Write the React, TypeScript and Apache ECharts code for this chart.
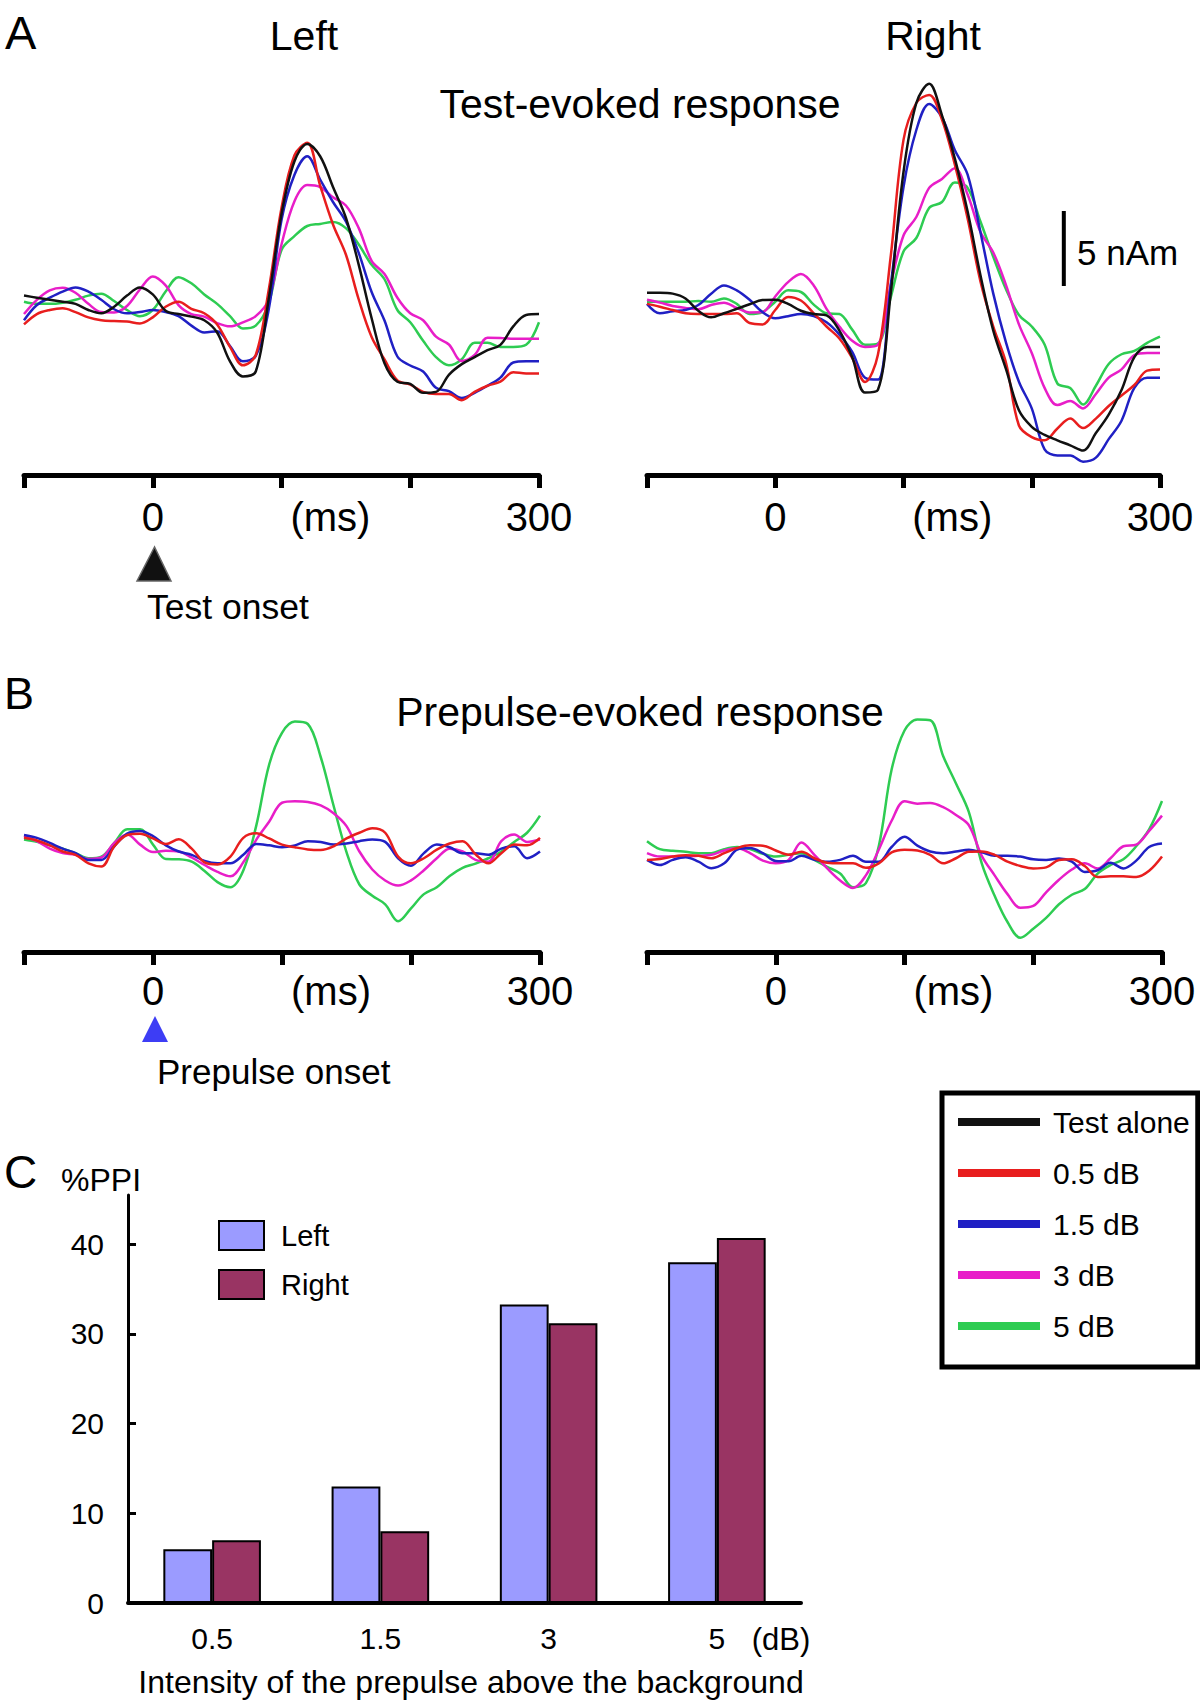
import React, { useEffect, useRef } from "react";
import * as echarts from "echarts";

const FONT = "'Liberation Sans', Arial, Helvetica, sans-serif";

// time axis (ms)
const timesMs = [-100, -90, -80, -70, -60, -50, -40, -30, -20, -10, 0, 10, 20, 30, 40, 50, 60, 70, 80, 90, 100, 110, 120, 130, 140, 150, 160, 170, 180, 190, 200, 210, 220, 230, 240, 250, 260, 270, 280, 290, 300];

const seriesNames = ["Test alone", "0.5 dB", "1.5 dB", "3 dB", "5 dB"];
const seriesColors = ["#111111", "#e81e1e", "#2020c4", "#e81ec8", "#2ecc52"];

// Panel A – test-evoked response (nAm), Left hemisphere
const aLeftTestAlone = [0.96, 0.82, 0.68, 0.55, 0.41, 0, -0.22, 0.22, 0.96, 1.5, 1.04, -0.05, -0.27, -0.44, -0.68, -1.5, -3.42, -4.43, -4.1, 0.7, 6.4, 9.9, 11.07, 10.25, 8.2, 6.15, 3.01, -0.55, -3.55, -4.78, -4.92, -5.52, -5.46, -4.32, -3.61, -3.14, -2.68, -2.32, -1.09, -0.33, -0.27];
const aLeft05 = [-0.96, -0.27, 0, 0.11, -0.14, -0.49, -0.68, -0.74, -0.77, -0.9, -0.49, 0.22, 0.55, 0.08, -0.22, -0.96, -2.46, -3.69, -3.0, 1.3, 6.8, 10.3, 11.15, 8.3, 5.7, 3.7, 0.7, -1.8, -3.3, -4.7, -4.97, -5.46, -5.6, -5.6, -6.01, -5.46, -5.05, -4.78, -4.15, -4.23, -4.23];
const aLeft15 = [-0.68, 0.33, 0.82, 1.23, 1.5, 1.23, 0.68, 0.05, -0.22, -0.14, 0, -0.14, -0.41, -1.04, -1.5, -1.42, -2.4, -3.42, -3.06, 0.0, 6.0, 9.0, 10.25, 8.7, 7.2, 5.9, 3.8, 1.2, -0.7, -3.1, -3.7, -4.1, -5.19, -5.41, -5.87, -5.52, -5.05, -4.51, -3.5, -3.42, -3.42];
const aLeft3 = [-0.27, 0.68, 1.31, 1.48, 1.15, 0.41, -0.14, -0.16, 0.27, 1.37, 2.24, 1.64, 0.33, -0.27, -0.44, -0.87, -1.09, -0.82, -0.41, 0.68, 4.37, 7.24, 8.33, 8.2, 7.51, 6.97, 5.46, 3.28, 2.4, 0.82, -0.22, -0.68, -1.78, -2.3, -3.4, -3.0, -1.85, -1.86, -1.91, -1.91, -1.91];
const aLeft5 = [0.55, 0.41, 0.41, 0.49, 0.68, 0.96, 1.09, 0.6, 0, -0.41, 0, 1.23, 2.19, 1.78, 1.04, 0.41, -0.41, -1.23, -1.04, 0.41, 4.0, 4.92, 5.6, 5.74, 5.87, 5.46, 4.37, 3.01, 2.05, 0, -0.82, -2.05, -3.14, -3.69, -3.28, -2.19, -2.19, -2.46, -2.46, -2.32, -0.82];

// Panel A – Right hemisphere
const aRightTestAlone = [1.15, 1.15, 1.09, 0.77, -0.05, -0.49, -0.22, 0.08, 0.38, 0.66, 0.68, 0.41, -0.05, -0.27, -0.36, -1.37, -3.14, -5.5, -5.33, 1.09, 9.2, 13.8, 15.08, 12.98, 10.11, 6.56, 2.32, -1.37, -3.96, -6.69, -7.79, -8.33, -8.69, -9.02, -9.37, -8.2, -6.97, -5.33, -3.14, -2.46, -2.46];
const aRight05 = [0.41, 0.22, 0, -0.22, -0.27, -0.27, -0.27, -0.22, -0.87, -0.96, 0, 0.87, 0.63, -0.22, -1.1, -1.9, -3.2, -4.8, -3.0, 3.55, 11.34, 13.8, 14.34, 12.7, 9.7, 6.1, 1.91, -1.1, -3.55, -7.7, -8.47, -8.69, -7.9, -7.24, -7.87, -7.24, -6.4, -5.7, -5.0, -4.04, -3.96];
const aRight15 = [0.41, -0.22, -0.08, 0, 0.33, 1.09, 1.64, 1.31, 0.68, -0.14, -0.55, -0.41, -0.27, -0.41, -0.82, -1.64, -2.79, -4.51, -4.64, 1.64, 8.2, 12.0, 13.74, 12.84, 10.66, 9.02, 5.19, 1.09, -2.19, -4.78, -6.56, -9.29, -9.7, -9.7, -10.11, -9.84, -8.61, -7.38, -5.19, -4.51, -4.51];
const aRight3 = [0.68, 0.49, 0.27, 0.14, 0.05, 0.33, 0.49, 0.14, -0.16, -0.14, 0.9, 1.86, 2.4, 1.64, 0.08, -1.1, -2.05, -2.46, -2.32, 1.64, 4.97, 6.2, 8.14, 8.74, 9.45, 7.7, 5.2, 3.83, 1.64, -0.96, -2.87, -5.19, -6.34, -6.07, -6.56, -5.6, -4.51, -3.96, -3.01, -2.87, -2.87];
const aRight5 = [0.55, 0.55, 0.55, 0.55, 0.6, 0.55, 0.77, 0.41, -0.27, -0.14, 0.55, 1.31, 1.2, 0.36, -0.22, -0.27, -1.31, -2.32, -2.24, 0.82, 3.9, 4.8, 6.8, 7.2, 8.5, 8.14, 5.9, 3.55, 1.37, -0.33, -1.1, -2.3, -4.9, -5.2, -6.3, -5.05, -3.6, -2.95, -2.73, -2.19, -1.78];

// Panel B – prepulse-evoked response (nAm)
const bLeft05 = [0.61, 0.43, 0.11, -0.3, -0.52, -1.09, -1.3, 0.05, 0.8, 0.89, 0.57, 0.2, 0.52, -0.11, -1.02, -1.16, -0.64, 0.61, 0.91, 0.57, 0.16, -0.02, -0.16, -0.2, 0.05, 0.57, 0.95, 1.25, 0.95, -0.64, -1.09, -0.75, -0.18, 0.23, 0.39, -0.48, -1.09, -0.41, 0.16, 0.11, 0.61];
const bLeft15 = [0.8, 0.61, 0.27, -0.11, -0.41, -0.86, -0.86, 0.05, 0.89, 1.07, 0.73, 0.11, -0.3, -0.52, -0.93, -1.09, -1.09, -0.52, 0.2, 0.11, -0.02, 0.11, 0.39, 0.34, 0.16, 0.23, 0.39, 0.5, 0.34, -0.75, -1.25, -0.41, 0.16, -0.02, -0.41, -0.41, -0.52, -0.11, 0.05, -0.75, -0.3];
const bLeft3 = [0.73, 0.39, -0.11, -0.41, -0.52, -0.8, -0.7, 0.27, 0.84, 0.16, -0.34, -0.25, -0.3, -0.7, -1.2, -1.66, -1.95, -1.02, 0.48, 1.68, 2.95, 3.05, 3.0, 2.77, 2.25, 1.39, -0.3, -1.5, -2.23, -2.57, -2.23, -1.55, -0.75, -0.11, -0.3, -0.86, -0.98, 0.39, 0.84, 0.34, 0.5];
const bLeft5 = [0.5, 0.34, 0.11, -0.11, -0.41, -0.75, -0.64, 0.27, 1.18, 1.18, 0.16, -0.8, -0.82, -0.98, -1.6, -2.34, -2.68, -1.57, 1.41, 5.48, 7.61, 8.36, 8.2, 6.0, 2.75, -0.34, -2.5, -3.25, -3.82, -4.95, -4.09, -3.14, -2.68, -1.93, -1.39, -1.11, -0.75, -0.3, 0.34, 0.95, 2.09];

const bRight05 = [-0.86, -0.8, -0.64, -0.55, -0.59, -0.75, -0.41, -0.07, 0.11, 0.09, -0.23, -0.52, -0.32, -0.75, -1.05, -1.09, -1.09, -1.39, -1.09, -0.36, -0.18, -0.23, -0.52, -1.09, -0.75, -0.32, -0.3, -0.52, -0.98, -1.27, -1.43, -1.36, -0.86, -0.82, -1.27, -2.0, -1.95, -1.95, -2.0, -1.59, -0.64];
const bRight15 = [-0.86, -1.2, -0.86, -0.68, -0.98, -1.41, -1.09, -0.18, -0.07, -0.41, -0.93, -0.95, -0.59, -0.86, -0.98, -0.86, -0.59, -0.98, -0.98, 0, 0.68, 0.09, -0.3, -0.41, -0.3, -0.18, -0.36, -0.59, -0.59, -0.64, -0.82, -0.86, -0.77, -0.98, -1.66, -1.55, -1.05, -1.43, -0.91, 0, 0.23];
const bRight3 = [-0.41, -0.64, -0.64, -0.64, -0.59, -0.52, -0.23, -0.09, -0.41, -0.91, -1.09, -0.86, 0.3, -0.52, -1.43, -2.23, -2.73, -1.89, -0.18, 1.75, 3.05, 2.89, 2.93, 2.66, 2.14, 1.45, -0.59, -1.89, -3.14, -4.05, -3.93, -3.02, -2.18, -1.5, -1.09, -1.43, -0.75, 0.05, 0.16, 1.07, 2.09];
const bRight5 = [0.39, -0.14, -0.25, -0.32, -0.41, -0.41, -0.14, 0, -0.14, -0.45, -0.64, -0.52, -0.41, -0.86, -1.32, -1.77, -2.68, -2.41, 0.05, 5.16, 7.77, 8.5, 8.45, 6.07, 4.23, 2.32, -1.09, -3.25, -5.0, -6.05, -5.45, -4.73, -3.82, -3.18, -2.8, -1.77, -1.2, -0.82, 0.05, 1.18, 3.07];

// Scale bar: 5 nAm, drawn inside the right test-evoked panel
const scaleBarTime = [225, 225];
const scaleBarValues = [1.6, 6.6];

// Panel C – %PPI
const intensities = ["0.5", "1.5", "3", "5"];
const ppiLeft = [6, 13, 33.3, 38];
const ppiRight = [7, 8, 31.2, 40.7];
const ppiTicks = [0, 10, 20, 30, 40];
const timeLabelValues = [0, 138, 300];

function lineSeries(name: string, color: string, vals: number[], idx: number) {
  return {
    type: "line",
    name,
    xAxisIndex: idx,
    yAxisIndex: idx,
    data: timesMs.map((t, i) => [t, vals[i]]),
    showSymbol: false,
    symbol: "none",
    smooth: 0.35,
    lineStyle: { color, width: 2.5 },
    itemStyle: { color },
    silent: true,
  };
}

function timeAxis(gridIndex: number, margin: number) {
  return {
    type: "value",
    gridIndex,
    min: -100,
    max: 300,
    interval: 100,
    axisLine: { show: true, onZero: false, lineStyle: { color: "#000", width: 5 } },
    axisTick: { show: true, length: 13, lineStyle: { color: "#000", width: 5 } },
    splitLine: { show: false },
    axisLabel: {
      customValues: timeLabelValues,
      formatter: (v: number) => (v === 0 ? "0" : v === 300 ? "300" : "(ms)"),
      fontSize: 40,
      fontFamily: FONT,
      color: "#000",
      margin,
    },
  };
}

function txt(text: string, x: number, y: number, size: number, align = "left", fill = "#000") {
  return {
    type: "text",
    x,
    y,
    silent: true,
    style: { text, fontSize: size, fontFamily: FONT, fill, align, verticalAlign: "middle" },
  };
}

export default function App() {
  const ref = useRef<HTMLDivElement>(null);
  useEffect(() => {
    const chart = echarts.init(ref.current!, null, { renderer: "svg" });

    const aLeft = [aLeft5, aLeft3, aLeft15, aLeft05, aLeftTestAlone];
    const aRight = [aRight5, aRight3, aRight15, aRight05, aRightTestAlone];
    const bLeft = [bLeft5, bLeft3, bLeft15, bLeft05];
    const bRight = [bRight5, bRight3, bRight15, bRight05];
    const order = [4, 3, 2, 1, 0];
    const series: any[] = [];
    order.forEach((k, j) => series.push(lineSeries(seriesNames[k], seriesColors[k], aLeft[j], 0)));
    order.forEach((k, j) => series.push(lineSeries(seriesNames[k], seriesColors[k], aRight[j], 1)));
    [4, 3, 2, 1].forEach((k, j) => series.push(lineSeries(seriesNames[k], seriesColors[k], bLeft[j], 2)));
    [4, 3, 2, 1].forEach((k, j) => series.push(lineSeries(seriesNames[k], seriesColors[k], bRight[j], 3)));
    series.push({
      type: "line",
      name: "scale",
      xAxisIndex: 1,
      yAxisIndex: 1,
      data: scaleBarTime.map((t, i) => [t, scaleBarValues[i]]),
      showSymbol: false,
      symbol: "none",
      lineStyle: { color: "#000", width: 4, cap: "butt" },
      silent: true,
    });
    series.push({
      type: "bar",
      name: "Left",
      xAxisIndex: 4,
      yAxisIndex: 4,
      data: ppiLeft,
      barGap: "0%",
      barCategoryGap: "42%",
      itemStyle: { color: "#9b9bff", borderColor: "#000", borderWidth: 2 },
      silent: true,
    });
    series.push({
      type: "bar",
      name: "Right",
      xAxisIndex: 4,
      yAxisIndex: 4,
      data: ppiRight,
      barGap: "0%",
      barCategoryGap: "42%",
      itemStyle: { color: "#993463", borderColor: "#000", borderWidth: 2 },
      silent: true,
    });

    const option: any = {
      animation: false,
      backgroundColor: "#fff",
      grid: [
        { left: 24, top: 55, width: 515, height: 420 },
        { left: 647, top: 55, width: 513, height: 420 },
        { left: 24, top: 667, width: 516, height: 285 },
        { left: 647, top: 667, width: 515, height: 285 },
        { left: 128, top: 1195, width: 673, height: 408 },
      ],
      xAxis: [
        timeAxis(0, 22),
        timeAxis(1, 22),
        timeAxis(2, 19),
        timeAxis(3, 19),
        {
          type: "category",
          gridIndex: 4,
          data: intensities,
          axisLine: { show: true, lineStyle: { color: "#000", width: 4 } },
          axisTick: { show: false },
          axisLabel: { fontSize: 30, fontFamily: FONT, color: "#000", margin: 20 },
          name: "Intensity of the prepulse above the background",
          nameLocation: "middle",
          nameGap: 63,
          nameTextStyle: { fontSize: 32, fontFamily: FONT, color: "#000", padding: [0, 0, 0, 13] },
        },
      ],
      yAxis: [
        { type: "value", gridIndex: 0, min: -11, max: 17, show: false },
        { type: "value", gridIndex: 1, min: -11, max: 17, show: false },
        { type: "value", gridIndex: 2, min: -7, max: 12, show: false },
        { type: "value", gridIndex: 3, min: -7, max: 12, show: false },
        {
          type: "value",
          gridIndex: 4,
          min: 0,
          max: 45.5,
          axisLine: { show: true, lineStyle: { color: "#000", width: 3 } },
          axisTick: { show: true, inside: true, length: 8, customValues: ppiTicks, lineStyle: { color: "#000", width: 3 } },
          axisLabel: { customValues: ppiTicks, fontSize: 30, fontFamily: FONT, color: "#000", margin: 24 },
          splitLine: { show: false },
        },
      ],
      legend: [
        {
          data: seriesNames,
          orient: "vertical",
          left: 942,
          top: 1093,
          itemWidth: 82,
          itemHeight: 8,
          itemGap: 21,
          icon: "rect",
          padding: [14, 8, 26, 16],
          borderColor: "#000",
          borderWidth: 5,
          selectedMode: false,
          textStyle: { fontSize: 30, fontFamily: FONT, color: "#000", padding: [0, 0, 0, 8] },
        },
        {
          data: ["Left", "Right"],
          orient: "vertical",
          left: 218,
          top: 1220,
          itemWidth: 45,
          itemHeight: 29,
          itemGap: 18,
          icon: "rect",
          padding: 0,
          selectedMode: false,
          textStyle: { fontSize: 29, fontFamily: FONT, color: "#000", padding: [0, 0, 0, 12] },
        },
      ],
      graphic: [
        txt("A", 5, 32, 47),
        txt("Left", 304, 36, 41, "center"),
        txt("Right", 933, 36, 41, "center"),
        txt("Test-evoked response", 640, 104, 41, "center"),
        txt("5 nAm", 1077, 252, 35),
        {
          type: "polygon",
          silent: true,
          shape: { points: [[154.5, 547], [137, 581], [171, 581]] },
          style: { fill: "#111", stroke: "#666", lineWidth: 1.5 },
        },
        txt("Test onset", 147, 607, 35.5),
        txt("B", 4, 693, 45),
        txt("Prepulse-evoked response", 640, 712, 41, "center"),
        {
          type: "polygon",
          silent: true,
          shape: { points: [[155, 1016], [142, 1042], [168, 1042]] },
          style: { fill: "#3d3df5" },
        },
        txt("Prepulse onset", 157, 1071, 35),
        txt("C", 4, 1172, 46),
        txt("%PPI", 61, 1180, 32),
        txt("(dB)", 781, 1639, 31, "center"),
      ],
      series,
    };
    chart.setOption(option);
    return () => chart.dispose();
  }, []);
  return (
    <div
      ref={ref}
      style={{ position: "absolute", left: 0, top: 0, width: 1200, height: 1702, background: "#fff" }}
    />
  );
}
